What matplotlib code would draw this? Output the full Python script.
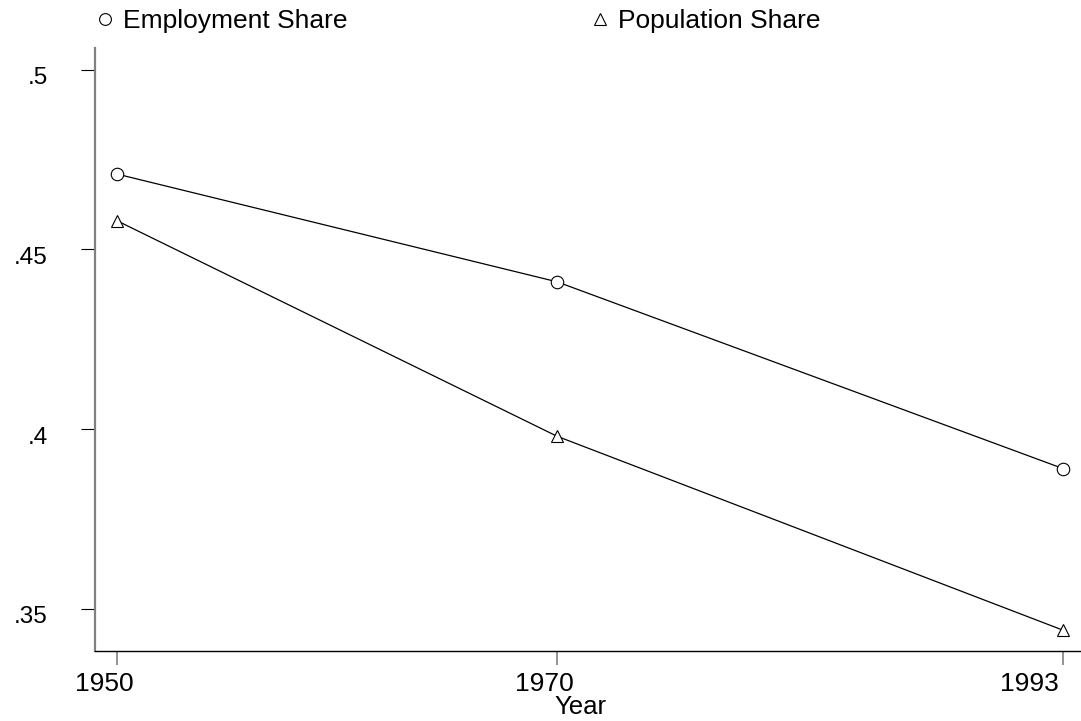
import matplotlib
matplotlib.use("Agg")
import matplotlib.pyplot as plt
from matplotlib.lines import Line2D
from matplotlib.transforms import ScaledTranslation

plt.rcParams["font.family"] = ["Liberation Sans", "DejaVu Sans"]

years = [1950, 1970, 1993]
employment_share = [0.471, 0.441, 0.389]
population_share = [0.458, 0.398, 0.344]
y_ticks = [0.35, 0.40, 0.45, 0.50]
y_labels = [".35", ".4", ".45", ".5"]

fig = plt.figure(figsize=(10.81, 7.21), dpi=100)
ax = fig.add_axes([95 / 1081, 70 / 721, 986 / 1081, 603 / 721])

ax.plot(years, employment_share, color="black", lw=0.9, marker="o",
        markersize=9, mfc="white", mec="black", mew=0.8)
ax.plot(years, population_share, color="black", lw=0.9, marker="^",
        markersize=9, mfc="white", mec="black", mew=0.8)

ax.set_xlim(1949.0, 1993.82)
ax.set_ylim(0.3382, 0.5061)

ax.set_xticks(years)
ax.set_xticklabels([str(y) for y in years], fontsize=19)
ax.set_yticks(y_ticks)
ax.set_yticklabels(y_labels, fontsize=17.5)

for s in ["top", "right"]:
    ax.spines[s].set_visible(False)
ax.spines["left"].set_color("#808080")
ax.spines["left"].set_linewidth(1.6)
ax.spines["bottom"].set_color("black")
ax.spines["bottom"].set_linewidth(1.0)

ax.tick_params(axis="y", length=10, width=0.8, color="black", pad=24)
ax.tick_params(axis="x", length=10, width=1.2, color="#808080", pad=5)

# nudge tick labels like the original
for lab in ax.get_yticklabels():
    lab.set_transform(lab.get_transform() + ScaledTranslation(0, -6 / 100, fig.dpi_scale_trans))
xlabs = ax.get_xticklabels()
for lab in xlabs[:-1]:
    lab.set_transform(lab.get_transform() + ScaledTranslation(-13 / 100, 0, fig.dpi_scale_trans))
xlabs[-1].set_horizontalalignment("right")
xlabs[-1].set_transform(xlabs[-1].get_transform() + ScaledTranslation(-4 / 100, 0, fig.dpi_scale_trans))

ax.set_xlabel("Year", fontsize=18.5)
ax.xaxis.set_label_coords(0.492, -0.073)

h1 = Line2D([], [], ls="none", marker="o", markersize=8.5, mfc="white", mec="black", mew=0.8)
h2 = Line2D([], [], ls="none", marker="^", markersize=8, mfc="white", mec="black", mew=0.8)
kw = dict(frameon=False, fontsize=19, handlelength=1, handletextpad=0.17,
          borderpad=0, borderaxespad=0, loc="center left")
fig.legend([h1], ["Employment Share"], bbox_to_anchor=(92 / 1081, 1 - 21 / 721), **kw)
fig.legend([h2], ["Population Share"], bbox_to_anchor=(587 / 1081, 1 - 21 / 721), **kw)

fig.savefig("out.png", dpi=100)
